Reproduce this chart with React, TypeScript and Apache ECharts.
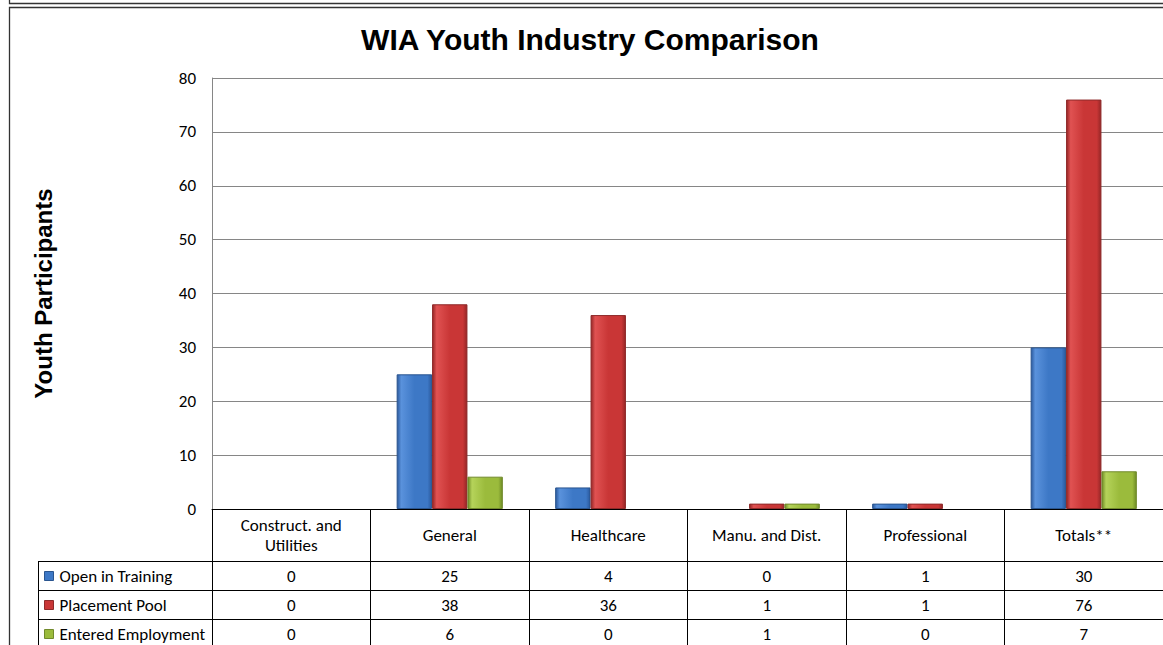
import React, { useEffect, useRef } from "react";
import * as echarts from "echarts";

const categories = ["Construct. and\nUtilities", "General", "Healthcare", "Manu. and Dist.", "Professional", "Totals**"];
const seriesNames = ["Open in Training", "Placement Pool", "Entered Employment"];
const openInTraining = [0, 25, 4, 0, 1, 30];
const placementPool = [0, 38, 36, 1, 1, 76];
const enteredEmployment = [0, 6, 0, 1, 0, 7];
const yTicks = { min: 0, max: 80, interval: 10 };

const W = 1163;
const H = 645;
const GRID_LEFT = 212;
const GRID_TOP = 78;
const GRID_BOTTOM_Y = 509;
const GRID_WIDTH = 954;
const TABLE_LEFT = 38;
const ROW_LINES = [561.5, 590.5, 619.5];
const ROW_CENTERS = [576, 605, 634];

const FONT = "Carlito, Lato, 'Open Sans', sans-serif";
const FS = 17;

function grad(edge: string, mid: string, light: string) {
  return new echarts.graphic.LinearGradient(0, 0, 1, 0, [
    { offset: 0, color: edge },
    { offset: 0.12, color: light },
    { offset: 0.5, color: mid },
    { offset: 0.88, color: mid },
    { offset: 1, color: edge },
  ]);
}

const palette = [
  { fill: () => grad("#2b5a9e", "#3d78c6", "#5a92dc"), border: "#2a558f", icon: "#3d78c6" },
  { fill: () => grad("#962626", "#c93636", "#e05252"), border: "#8e2a2a", icon: "#c93636" },
  { fill: () => grad("#6f8c26", "#9bbb3c", "#b5d35a"), border: "#718a2c", icon: "#9bbb3c" },
];

export default function App() {
  const ref = useRef<HTMLDivElement>(null);
  useEffect(() => {
    if (!ref.current) return;
    const chart = echarts.init(ref.current, undefined, { renderer: "svg" });
    const values = [openInTraining, placementPool, enteredEmployment];

    const rowAxes = values.map((arr, i) => ({
      type: "category",
      gridIndex: 0,
      position: "bottom",
      offset: ROW_CENTERS[i] - GRID_BOTTOM_Y,
      data: categories,
      axisLine: { show: false },
      axisTick: { show: false },
      splitLine: { show: false },
      axisLabel: {
        interval: 0,
        margin: 0,
        verticalAlign: "middle",
        fontFamily: FONT,
        fontSize: FS,
        color: "#000",
        formatter: (_v: string, idx: number) => String(arr[idx]),
      },
    }));

    const legends = seriesNames.map((n, i) => ({
      orient: "horizontal",
      left: 44,
      top: ROW_CENTERS[i] - 10,
      height: 20,
      padding: 0,
      itemWidth: 9,
      itemHeight: 9,
      selectedMode: false,
      data: [
        {
          name: n,
          icon: "rect",
          itemStyle: { color: palette[i].icon, borderColor: palette[i].border, borderWidth: 1 },
        },
      ],
      textStyle: { fontFamily: FONT, fontSize: FS, color: "#000", lineHeight: 20, padding: [0, 0, 0, 1] },
    }));

    const lines: any[] = [];
    ROW_LINES.forEach((y) => {
      lines.push({
        type: "line",
        shape: { x1: TABLE_LEFT, y1: y, x2: W, y2: y },
        style: { stroke: "#000", lineWidth: 1 },
      });
    });
    lines.push({
      type: "line",
      shape: { x1: TABLE_LEFT + 0.5, y1: ROW_LINES[0], x2: TABLE_LEFT + 0.5, y2: H },
      style: { stroke: "#000", lineWidth: 1 },
    });
    lines.push({
      type: "polyline",
      shape: { points: [[9.5, 0], [9.5, 3.5], [W, 3.5]] },
      style: { stroke: "#333", lineWidth: 1.3, fill: "none" },
    });
    lines.push({
      type: "polyline",
      shape: { points: [[9.5, H], [9.5, 7.5], [W, 7.5]] },
      style: { stroke: "#333", lineWidth: 1.3, fill: "none" },
    });

    chart.setOption({
      animation: false,
      backgroundColor: "#fff",
      title: {
        text: "WIA Youth Industry Comparison",
        left: 590,
        textAlign: "center",
        top: 24,
        padding: 0,
        textStyle: { fontFamily: "'Liberation Sans', Arial, sans-serif", fontSize: 30, fontWeight: "bold", color: "#000" },
      },
      legend: legends,
      grid: { left: GRID_LEFT, top: GRID_TOP, width: GRID_WIDTH, height: GRID_BOTTOM_Y - GRID_TOP },
      xAxis: [
        {
          type: "category",
          data: categories,
          axisLine: { show: true, lineStyle: { color: "#000", width: 1 } },
          axisTick: { show: true, interval: 0, length: H - GRID_BOTTOM_Y, lineStyle: { color: "#000", width: 1 } },
          axisLabel: {
            interval: 0,
            margin: 26,
            verticalAlign: "middle",
            lineHeight: 20,
            fontFamily: FONT,
            fontSize: FS,
            color: "#000",
          },
        },
        ...rowAxes,
      ],
      yAxis: {
        type: "value",
        min: yTicks.min,
        max: yTicks.max,
        interval: yTicks.interval,
        name: "Youth Participants",
        nameLocation: "middle",
        nameGap: 157,
        nameRotate: 90,
        nameTextStyle: { fontFamily: "'Liberation Sans', Arial, sans-serif", fontSize: 24, fontWeight: "bold", color: "#000" },
        axisLine: { show: true, lineStyle: { color: "#868686" } },
        axisTick: { show: false },
        axisLabel: { margin: 16, fontFamily: FONT, fontSize: FS, color: "#000" },
        splitLine: { show: true, lineStyle: { color: "#868686", width: 1 } },
      },
      series: values.map((arr, i) => ({
        name: seriesNames[i],
        type: "bar",
        xAxisIndex: 0,
        data: arr.map((v) => (v === 0 ? null : v)),
        barGap: "0%",
        barCategoryGap: "33%",
        itemStyle: { color: palette[i].fill(), borderColor: palette[i].border, borderWidth: 1 },
        emphasis: { disabled: true },
      })),
      graphic: lines,
    });
    return () => chart.dispose();
  }, []);
  return (
    <div
      ref={ref}
      style={{ position: "fixed", left: 0, top: 0, width: W, height: H, background: "#fff" }}
    />
  );
}
